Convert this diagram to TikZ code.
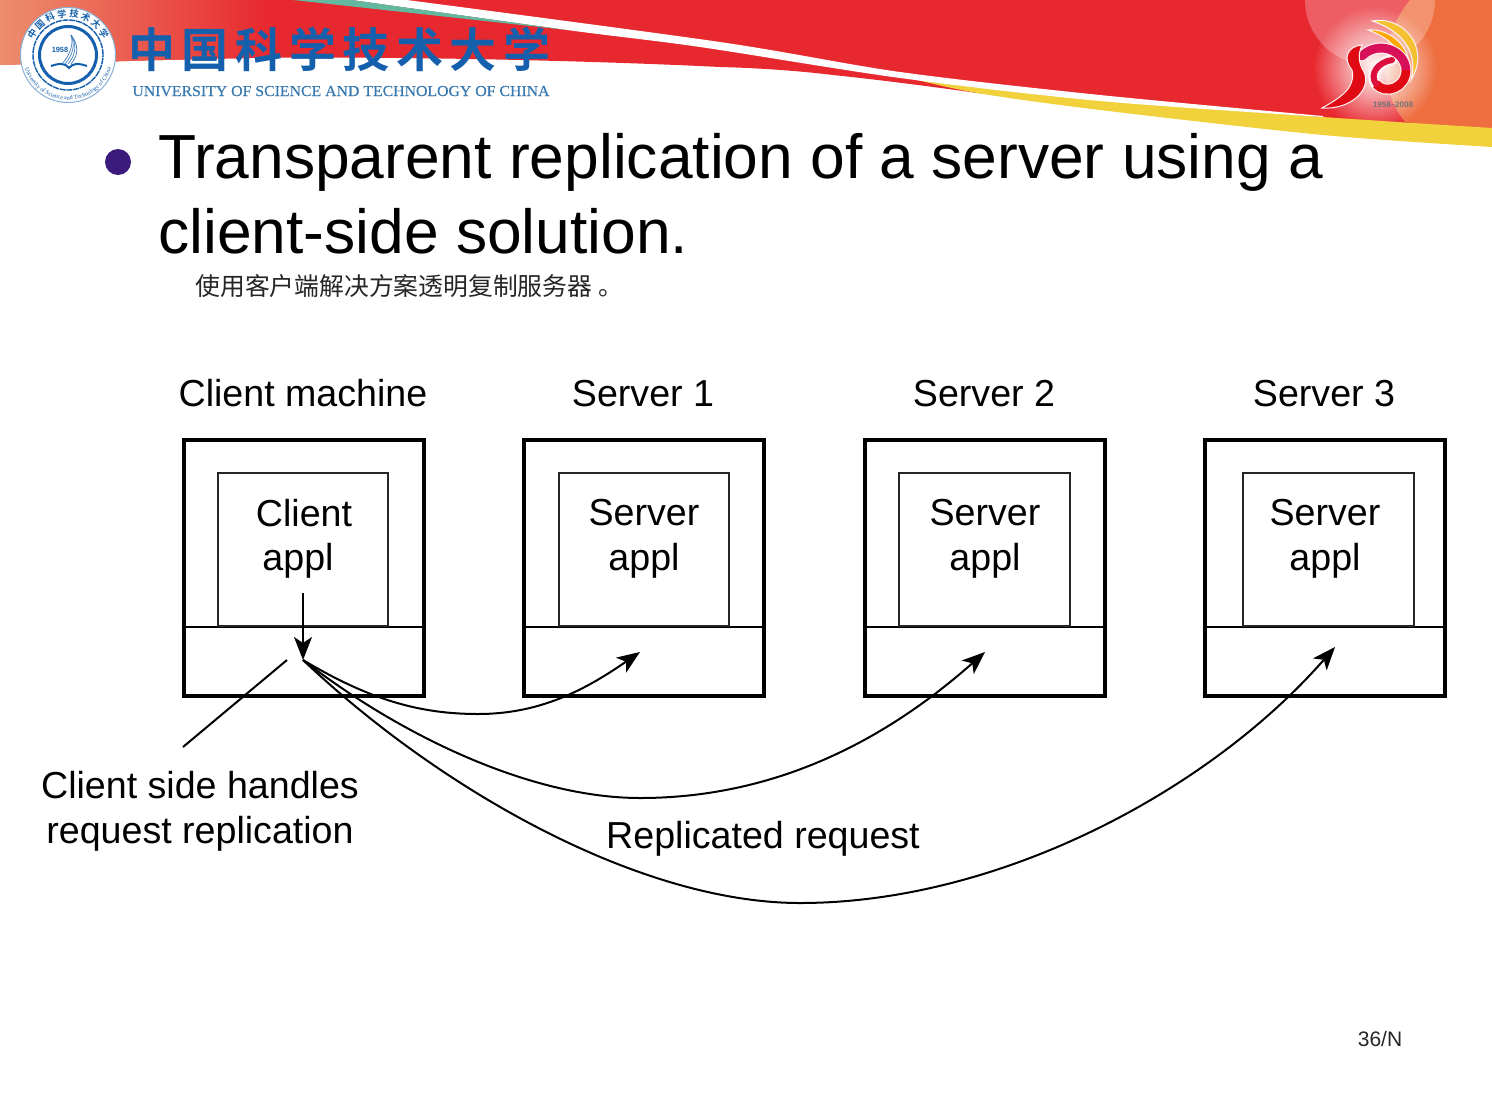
\documentclass[tikz,border=0pt]{standalone}
\usepackage{fontspec}
\setmainfont{Liberation Sans}
\newfontfamily\cjkf{Noto Sans CJK SC}
\newfontfamily\cjkb{Noto Sans CJK SC Bold}
\newfontfamily\serf{Liberation Serif}
\newfontfamily\serw[FakeStretch=1.04,FakeBold=0.25]{Liberation Serif}
\usetikzlibrary{arrows.meta,decorations.text,fadings}
\definecolor{bannerred}{HTML}{E8282F}
\definecolor{salmon}{HTML}{EC8E6E}
\definecolor{orangeband}{HTML}{EE6E40}
\definecolor{yellowband}{HTML}{F2D23C}
\definecolor{tealband}{HTML}{62B9A0}
\definecolor{ustcblue}{HTML}{1560AC}
\definecolor{enblue}{HTML}{3878B0}
\definecolor{bulletc}{HTML}{3A1A7A}
\definecolor{magent}{HTML}{D8105A}
\definecolor{markred}{HTML}{E00A14}
\tikzfading[name=glowfade,inner color=transparent!0,outer color=transparent!100]
\tikzset{
  x=0.5pt,y=-0.5pt,
  outerbox/.style={draw=black,line width=2pt,minimum width=120pt,minimum height=128pt,inner sep=0pt,line join=miter},
  innerbox/.style={draw=black!85,line width=1pt,minimum width=85.2pt,minimum height=76.5pt,inner sep=0pt,anchor=south},
  divider/.style={draw=black,line width=1pt},
  lbl/.style={font=\fontsize{18.8}{22.5}\selectfont,align=center,inner sep=0pt,text=black},
  conn/.style={draw=black,line width=1pt},
  tip/.style={-{Stealth[length=11.5pt,width=9pt,inset=3pt]}},
  title/.style={font=\fontsize{31.15}{37.5}\selectfont,anchor=base west,inner sep=0pt,text=black},
}
\begin{document}
\begin{tikzpicture}
\useasboundingbox (0,0) rectangle (1492,1119);
\fill[white] (0,0) rectangle (1492,1119);
% ---------- banner
\begin{scope}
\clip (0,0) -- (1492,0) -- (1492,135) -- (1323,125) -- (1100,105) -- (977,93)
   .. controls (920,85) and (880,80) .. (833,75)
   .. controls (800,71) and (760,68) .. (720,67)
   .. controls (600,61) and (400,56) .. (250,58)
   .. controls (150,60) and (60,63) .. (0,65) -- cycle;
\fill[bannerred] (0,0) rectangle (1492,150);
\shade[left color=salmon,right color=bannerred] (0,0) rectangle (270,100);
\fill[orangeband] (1410,0) .. controls (1385,30) and (1372,80) .. (1405,122) -- (1492,135) -- (1492,0) -- cycle;
\fill[white,fill opacity=.25] (1370,0) circle (65);
\fill[white,path fading=glowfade,fit fading=true] (1375,68) circle (62);
\end{scope}
\fill[yellowband] plot[smooth,tension=.5] coordinates {(905,77) (1100,100) (1323,117) (1492,128)}
   -- plot[smooth,tension=.5] coordinates {(1492,147) (1323,135) (1100,110) (977,93) (905,77)} -- cycle;
\fill[white] plot[smooth,tension=.5] coordinates {(407,0) (720,42) (900,72) (1100,95) (1323,116)}
   -- plot[smooth,tension=.5] coordinates {(1323,117) (1100,101) (900,78) (700,47) (567,30) (352,0)} -- cycle;
\fill[tealband] (293,0) -- (352,0) -- (567,30) -- cycle;
% ---------- anniversary mark
\begin{scope}[draw=white!80!pink,line width=.5pt]
\filldraw[fill=yellowband!80!orange] (1372,21) .. controls (1400,15) and (1432,45) .. (1411,80)
   .. controls (1419,50) and (1400,30) .. (1372,21) -- cycle;
\filldraw[fill=orange!70!yellow] (1368,30) .. controls (1392,28) and (1414,50) .. (1408,74)
   .. controls (1402,50) and (1390,38) .. (1368,30) -- cycle;
\end{scope}
\draw[white!80!pink,line width=5.5pt,line cap=round] (1362,56) .. controls (1378,40) and (1405,50) .. (1406,70)
   .. controls (1406,88) and (1385,95) .. (1376,84) .. controls (1369,74) and (1378,62) .. (1392,60);
\draw[magent,line width=4.4pt,line cap=round] (1362,56) .. controls (1378,40) and (1405,50) .. (1406,70);
\draw[markred,line width=4.4pt] (1406,70) .. controls (1406,88) and (1385,95) .. (1376,84);
\draw[magent!60!markred,line width=3pt,line cap=round] (1376,84) .. controls (1369,74) and (1378,62) .. (1392,60);
\filldraw[fill=markred,draw=white!80!pink,line width=.5pt] (1322,108) .. controls (1340,98) and (1356,88) .. (1352,70)
   .. controls (1342,58) and (1348,46) .. (1362,45) .. controls (1358,54) and (1358,62) .. (1364,72)
   .. controls (1372,90) and (1350,110) .. (1322,108) -- cycle;
\node[inner sep=0pt,font=\fontsize{4}{5}\selectfont\bfseries,text=black!55] (mark) at (1393,105) {1958--2008};
% ---------- university seal
\node[circle,draw=ustcblue!50,line width=.5pt,fill=white,minimum size=47.5pt,inner sep=0pt] (seal) at (68,55) {};
\node[circle,draw=ustcblue,line width=.7pt,dashed,dash pattern=on 3pt off .4pt,minimum size=35pt,inner sep=0pt] (sealmid) at (68,55) {};
\node[circle,draw=ustcblue,line width=1.5pt,minimum size=28.5pt,inner sep=0pt] (sealin) at (68,55) {};
\path[postaction={decorate},decoration={text along path,text align=center,text color=ustcblue,
   text={|\fontsize{4.6}{5}\cjkb|中 国 科 学 技 术 大 学}}]
   (30,55) arc[start angle=180,end angle=360,radius=38];
\path[postaction={decorate},decoration={text along path,text align=center,text color=ustcblue,
   text={|\fontsize{3}{3}\serf|University of Science and Technology of China}}]
   (23,55) arc[start angle=180,end angle=0,radius=45];
\node[inner sep=0pt,font=\fontsize{3.7}{4}\selectfont\bfseries,text=ustcblue] (yr) at (60,50) {1958};
\draw[ustcblue,line width=1pt] (51,66) .. controls (60,63) and (65,63) .. (69,68) .. controls (73,63) and (78,63) .. (87,66);
\foreach \d in {0,3,6,9}
  \draw[ustcblue!80,line width=.35pt] (62+\d,64) .. controls (70+\d,55) and (74+\d*.5,44) .. (71,35);
% ---------- university name
\node[anchor=base west,inner sep=0pt,text=ustcblue,font=\fontsize{23.5}{24}\cjkb] (cnname) at (128,67)
  {中\hspace{3.3pt}国\hspace{3.3pt}科\hspace{3.3pt}学\hspace{3.3pt}技\hspace{3.3pt}术\hspace{3.3pt}大\hspace{3.3pt}学};
\node[anchor=base west,inner sep=0pt,text=enblue,font=\fontsize{7.6}{9}\serw] (enname) at (132,96)
  {UNIVERSITY OF SCIENCE AND TECHNOLOGY OF CHINA};
% ---------- heading
\fill[bulletc] (118,162) circle (13);
\node[title] (t1) at (158,178) {Transparent replication of a server using a};
\node[title] (t2) at (158,253) {client-side solution.};
\node[anchor=base west,inner sep=0pt,text=black!85,font=\fontsize{12.4}{14}\cjkf] (t3) at (195,295) {使用客户端解决方案透明复制服务器\hspace{3pt}。};
% ---------- machines
\node[outerbox] (cm) at (303.5,568) {};
\node[outerbox] (s1) at (644,568) {};
\node[outerbox] (s2) at (984.5,568) {};
\node[outerbox] (s3) at (1325,568) {};
\draw[divider] (cm.west |- 0,627) -- (cm.east |- 0,627);
\draw[divider] (s1.west |- 0,627) -- (s1.east |- 0,627);
\draw[divider] (s2.west |- 0,627) -- (s2.east |- 0,627);
\draw[divider] (s3.west |- 0,627) -- (s3.east |- 0,627);
\node[innerbox] (ca) at (303,627) {};
\node[innerbox] (a1) at (644,627) {};
\node[innerbox] (a2) at (984.5,627) {};
\node[innerbox] (a3) at (1328.5,627) {};
\node[lbl] (hc) at (303,393) {Client machine};
\node[lbl] (h1) at (643,394) {Server 1};
\node[lbl] (h2) at (984,394) {Server 2};
\node[lbl] (h3) at (1324,394) {Server 3};
\node[lbl] (lc1) at (304,513) {Client};
\node[lbl] (lc2) at (298,561) {appl};
\node[lbl] (l11) at (644,513) {Server};
\node[lbl] (l12) at (644,561) {appl};
\node[lbl] (l21) at (985,513) {Server};
\node[lbl] (l22) at (985,561) {appl};
\node[lbl] (l31) at (1325,513) {Server};
\node[lbl] (l32) at (1325,561) {appl};
\node[lbl] (side) at (200,811) {Client side handles\\request replication};
\node[lbl] (rep) at (763,839) {Replicated request};
\node[inner sep=0pt,font=\fontsize{10.5}{12}\selectfont,text=black!85] (pg) at (1380,1039) {36/N};
% ---------- connectors
\coordinate (src) at (303,593);
\coordinate (hub) at (303,660);
\coordinate (t1e) at (640,652);
\coordinate (t2e) at (985,652);
\coordinate (t3e) at (1335,647);
\coordinate (noteA) at (287,660);
\coordinate (noteB) at (183,747);
\draw[conn,tip] (src) -- (hub);
\draw[conn] (noteA) -- (noteB);
\draw[conn,tip] (hub) .. controls (370,700) and (420,714) .. (478,714) .. controls (540,714) and (585,690) .. (t1e);
\draw[conn,tip] (hub) .. controls (400,735) and (530,798) .. (640,798) .. controls (770,798) and (880,745) .. (t2e);
\draw[conn,tip] (hub) .. controls (440,790) and (640,903) .. (800,903) .. controls (1000,903) and (1210,790) .. (t3e);
\end{tikzpicture}
\end{document}
